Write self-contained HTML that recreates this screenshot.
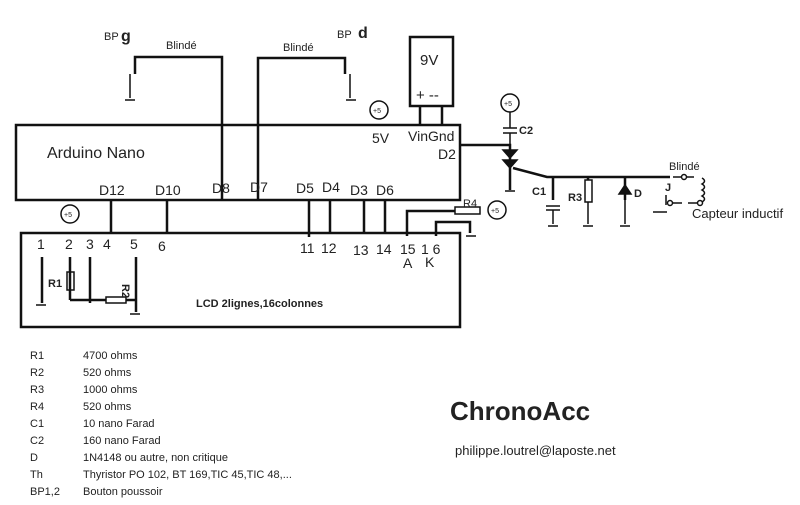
<!DOCTYPE html><html><head><style>body{margin:0;background:#fff}svg{display:block}text{font-family:"Liberation Sans",sans-serif;fill:#222}</style></head><body>
<svg width="800" height="505" viewBox="0 0 800 505" xmlns="http://www.w3.org/2000/svg">
<g stroke="#111" stroke-width="2.5" fill="none">
<rect x="16" y="125" width="444" height="75"/>
<rect x="21" y="233" width="439" height="94"/>
<rect x="410" y="37" width="43" height="69"/>
<path d="M135 74V57H222V200M258 200V58H345V74M420 106V125M442 106V125"/>
<path d="M460 145H510V190M513 168L547 177H670"/>
<path d="M111 200V233M167 200V233M309 200V237M330 200V233M364 200V233M385 200V233"/>
<path d="M407 236V211H455M436 236V222H470V233M42 257V303M70 257V300M90 257V303M136 257V312M70 300H106M126 300H136"/>
<path d="M553 177V200M588 177V180M625 177V200"/>
</g>
<g stroke="#111" stroke-width="1.5" fill="none">
<path d="M130 74v24M350 74v24M510 112v16M510 133v12M503 128h14M503 133h14M546 206h14M546 210h14M553 210v14M588 202v22M625 194v30M625 190v-8M666 195v10"/>
<rect x="455" y="207" width="25" height="7"/><rect x="106" y="297" width="20" height="6"/><rect x="67" y="272" width="7" height="18"/><rect x="585" y="180" width="7" height="22"/>
<path d="M503 150h14l-7 8z M503 160h14l-7 8z" fill="#111"/><path d="M619 194h12l-6-9z" fill="#111"/>
<path d="M673 177h8M686 177h8M672 203h10M688 203h10M702 178q5 3 0 6q5 3 0 6q5 3 0 6q5 3 0 6"/>
<circle cx="379" cy="110" r="9"/><circle cx="510" cy="103" r="9"/><circle cx="497" cy="210" r="9"/><circle cx="70" cy="214" r="9"/>
<circle cx="684" cy="177" r="2.5"/><circle cx="670" cy="203" r="2.5"/><circle cx="700" cy="203" r="2.5"/>
<path d="M125 100h10M346 100h10M505 191h10M548 226h10M583 226h10M620 226h10M653 212h14M466 236h10M36 305h10M130 314h10"/>
</g>
<g font-size="7"><text x="373" y="113">+5</text><text x="504" y="106">+5</text><text x="491" y="213">+5</text><text x="64" y="217">+5</text></g>
<text x="104" y="40" font-size="11">BP</text><text x="121" y="41" font-size="16" font-weight="bold">g</text>
<text x="337" y="38" font-size="11">BP</text><text x="358" y="38" font-size="16" font-weight="bold">d</text>
<text x="166" y="49" font-size="11">Blindé</text><text x="283" y="51" font-size="11">Blindé</text>
<text x="420" y="65" font-size="15">9V</text><text x="416" y="100" font-size="15">+ --</text>
<text x="47" y="158" font-size="16">Arduino Nano</text>
<g font-size="14"><text x="372" y="143">5V</text><text x="408" y="141">VinGnd</text><text x="438" y="159">D2</text>
<text x="99" y="195">D12</text><text x="155" y="195">D10</text><text x="212" y="193">D8</text><text x="250" y="192">D7</text><text x="296" y="193">D5</text><text x="322" y="192">D4</text><text x="350" y="195">D3</text><text x="376" y="195">D6</text>
<text x="37" y="249">1</text><text x="65" y="249">2</text><text x="86" y="249">3</text><text x="103" y="249">4</text><text x="130" y="249">5</text><text x="158" y="251">6</text>
<text x="300" y="253">11</text><text x="321" y="253">12</text><text x="353" y="255">13</text><text x="376" y="254">14</text><text x="400" y="254">15</text><text x="421" y="254">1 6</text>
<text x="403" y="268">A</text><text x="425" y="267">K</text></g>
<g font-size="11" font-weight="bold"><text x="48" y="287">R1</text><text x="112" y="282" transform="rotate(90 116 288)">R2</text><text x="196" y="307">LCD 2lignes,16colonnes</text>
<text x="519" y="134">C2</text><text x="532" y="195">C1</text><text x="568" y="201">R3</text><text x="634" y="197">D</text><text x="665" y="191">J</text></g>
<text x="463" y="207" font-size="11">R4</text><text x="669" y="170" font-size="11">Blindé</text><text x="692" y="218" font-size="13">Capteur inductif</text>
<g font-size="11"><text x="30" y="359">R1</text><text x="83" y="359">4700 ohms</text><text x="30" y="376">R2</text><text x="83" y="376">520 ohms</text><text x="30" y="393">R3</text><text x="83" y="393">1000 ohms</text><text x="30" y="410">R4</text><text x="83" y="410">520 ohms</text><text x="30" y="427">C1</text><text x="83" y="427">10 nano Farad</text><text x="30" y="444">C2</text><text x="83" y="444">160 nano Farad</text><text x="30" y="461">D</text><text x="83" y="461">1N4148 ou autre, non critique</text><text x="30" y="478">Th</text><text x="83" y="478">Thyristor  PO 102, BT 169,TIC 45,TIC 48,...</text><text x="30" y="495">BP1,2</text><text x="83" y="495">Bouton poussoir</text></g>
<text x="450" y="420" font-size="26" font-weight="bold">ChronoAcc</text>
<text x="455" y="455" font-size="13">philippe.loutrel@laposte.net</text>
</svg></body></html>
